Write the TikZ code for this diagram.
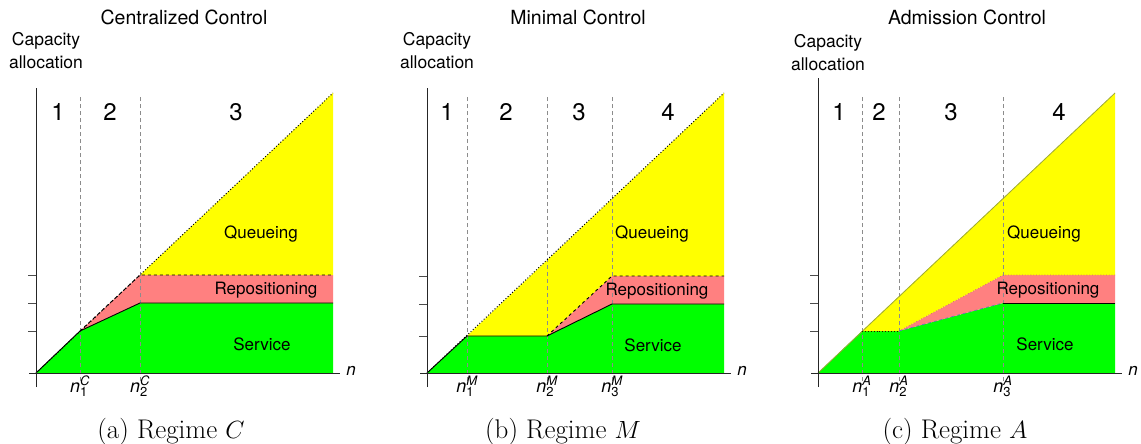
\documentclass[tikz,border=0pt]{standalone}
\usepackage{fontspec}
\newfontfamily\hvfont{TeX Gyre Heros}
\usepackage{tikz}
\usetikzlibrary{positioning}
\definecolor{queuey}{HTML}{FFFF00}
\definecolor{reposr}{HTML}{FF8080}
\definecolor{serveg}{HTML}{00FF00}
\definecolor{diagol}{HTML}{9CA838}
\definecolor{servbl}{HTML}{5A78B4}
\newcommand{\nlab}[2]{\textit{n}$_{\hbox{\hvfont\fontsize{13}{13}\selectfont #1}}^{\hbox{\hvfont\itshape\fontsize{13}{13}\selectfont #2}}$}

\begin{document}
\begin{tikzpicture}[
  x=1pt, y=1pt,
  font=\hvfont\fontsize{17}{20}\selectfont,
  axis/.style={draw=black!85, line width=0.9pt},
  tickmark/.style={draw=black!70, line width=0.8pt},
  guide/.style={draw=black!45, dash pattern=on 4pt off 3pt, line width=0.7pt},
  servline/.style={draw=black, line width=0.9pt},
  repline/.style={draw=black, dashed, line width=0.9pt},
  diagline/.style={draw=black, dotted, line width=1pt},
  title/.style={font=\hvfont\fontsize{19.5}{22}\selectfont},
  ylab/.style={align=center, font=\hvfont\fontsize{17.5}{23}\selectfont},
  regnum/.style={font=\hvfont\fontsize{24}{24}\selectfont},
  tlab/.style={anchor=base, inner sep=0pt, font=\hvfont\fontsize{18}{20}\selectfont},
  subcapt/.style={anchor=base, font=\rmfamily\fontsize{27}{30}\selectfont},
]
\useasboundingbox (0,0) rectangle (1141,-444);

\begin{scope}[shift={(36,-373)}]
\def\na{44} \def\nb{104} \def\rx{297} \def\ya{42} \def\yb{70} \def\yc{98} \def\dtop{280}
\fill[serveg] (0,0) -- (\na,\ya) -- (\nb,\yb) -- (\rx,\yb) -- (\rx,0) -- cycle;
\fill[reposr] (\na,\ya) -- (\nb,\yc) -- (\rx,\yc) -- (\rx,\yb) -- (\nb,\yb) -- cycle;
\fill[queuey] (\nb,\yc) -- (\rx,\dtop) -- (\rx,\yc) -- cycle;
\foreach \x in {\na,\nb} { \draw[guide] (\x,-8) -- (\x,276); }
\draw[diagline] (0,0) -- (\rx,\dtop);
\draw[repline] (\na,\ya) -- (\nb,\yc) -- (\rx,\yc);
\draw[servline] (0,0) -- (\na,\ya) -- (\nb,\yb) -- (\rx,\yb);
\draw[axis] (-7,0) -- (304,0);
\draw[axis] (0,-14) -- (0,285);
\foreach \y in {\ya,\yb,\yc} { \draw[tickmark] (-8,\y) -- (0,\y); }
\node[title] (tA) at (148,356) {Centralized Control};
\node[ylab] (yA) at (10,322) {Capacity\\allocation};
\node (xA) at (315,2) {\textit{n}};
\node[regnum] (rA1) at (22,261) {1};
\node[regnum] (rA2) at (74,261) {2};
\node[regnum] (rA3) at (200,261) {3};
\node[tlab] (kA1) at (\na,-19) {\nlab{1}{C}};
\node[tlab] (kA2) at (\nb,-19) {\nlab{2}{C}};
\node (qA) at (225,139) {Queueing};
\node (pA) at (230,83) {Repositioning};
\node (sA) at (226,29) {Service};
\node[subcapt] (cA) at (135,-65) {(a) Regime $C$};
\end{scope}

\begin{scope}[shift={(427,-373)}]
\def\na{40} \def\nb{120} \def\nc{185} \def\rx{297} \def\ya{37} \def\yb{69} \def\yc{97} \def\dtop{280}
\fill[serveg] (0,0) -- (\na,\ya) -- (\nb,\ya) -- (\nc,\yb) -- (\rx,\yb) -- (\rx,0) -- cycle;
\fill[reposr] (\nb,\ya) -- (\nc,\yc) -- (\rx,\yc) -- (\rx,\yb) -- (\nc,\yb) -- cycle;
\fill[queuey] (\na,\ya) -- (\rx,\dtop) -- (\rx,\yc) -- (\nc,\yc) -- (\nb,\ya) -- cycle;
\foreach \x in {\na,\nb,\nc} { \draw[guide] (\x,-8) -- (\x,276); }
\draw[diagline] (0,0) -- (\rx,\dtop);
\draw[repline] (\nb,\ya) -- (\nc,\yc) -- (\rx,\yc);
\draw[servline] (0,0) -- (\na,\ya) -- (\nb,\ya) -- (\nc,\yb) -- (\rx,\yb);
\draw[axis] (-7,0) -- (304,0);
\draw[axis] (0,-14) -- (0,285);
\foreach \y in {\ya,\yb,\yc} { \draw[tickmark] (-8,\y) -- (0,\y); }
\node[title] (tB) at (151,356) {Minimal Control};
\node[ylab] (yB) at (10,322) {Capacity\\allocation};
\node (xB) at (315,2) {\textit{n}};
\node[regnum] (rB1) at (20,261) {1};
\node[regnum] (rB2) at (79,261) {2};
\node[regnum] (rB3) at (152,261) {3};
\node[regnum] (rB4) at (241,261) {4};
\node[tlab] (kB1) at (\na,-19) {\nlab{1}{M}};
\node[tlab] (kB2) at (\nb,-19) {\nlab{2}{M}};
\node[tlab] (kB3) at (\nc,-19) {\nlab{3}{M}};
\node (qB) at (225,139) {Queueing};
\node (pB) at (230,82) {Repositioning};
\node (sB) at (226,28) {Service};
\node[subcapt] (cB) at (136,-65) {(b) Regime $M$};
\end{scope}

\begin{scope}[shift={(818,-373)}]
\def\na{44} \def\nb{81} \def\nc{185} \def\rx{297} \def\ya{42} \def\yb{70} \def\yc{98} \def\dtop{280}
\fill[serveg] (0,0) -- (\na,\ya) -- (\nb,\ya) -- (\nc,\yb) -- (\rx,\yb) -- (\rx,0) -- cycle;
\fill[reposr] (\nb,\ya) -- (\nc,\yc) -- (\rx,\yc) -- (\rx,\yb) -- (\nc,\yb) -- cycle;
\fill[queuey] (\na,\ya) -- (\rx,\dtop) -- (\rx,\yc) -- (\nc,\yc) -- (\nb,\ya) -- cycle;
\foreach \x in {\na,\nb,\nc} { \draw[guide] (\x,-8) -- (\x,276); }
\draw[diagol, line width=0.8pt] (0,0) -- (\rx,\dtop);
\draw[reposr!85!black, dotted, line width=0.8pt] (\nb,\ya) -- (\nc,\yc) -- (\rx,\yc);
\draw[black!80!red, dotted, line width=0.9pt] (\na,\ya) -- (\nb,\ya);
\draw[servbl, dashed, line width=0.7pt] (\nb,\ya) -- (\nc,\yb);
\draw[servline] (\nc,\yb) -- (\rx,\yb);
\draw[axis] (-7,0) -- (304,0);
\draw[axis] (0,-14) -- (0,295);
\foreach \y in {\ya,\yb,\yc} { \draw[tickmark] (-8,\y) -- (0,\y); }
\node[title] (tC) at (149,356) {Admission Control};
\node[ylab] (yC) at (10,320) {Capacity\\allocation};
\node (xC) at (315,2) {\textit{n}};
\node[regnum] (rC1) at (21,261) {1};
\node[regnum] (rC2) at (61,261) {2};
\node[regnum] (rC3) at (133,261) {3};
\node[regnum] (rC4) at (241,261) {4};
\node[tlab] (kC1) at (\na,-19) {\nlab{1}{A}};
\node[tlab] (kC2) at (\nb,-19) {\nlab{2}{A}};
\node[tlab] (kC3) at (\nc,-19) {\nlab{3}{A}};
\node (qC) at (226,139) {Queueing};
\node (pC) at (230,83) {Repositioning};
\node (sC) at (227,29) {Service};
\node[subcapt] (cC) at (137,-65) {(c) Regime $A$};
\end{scope}
\end{tikzpicture}
\end{document}
